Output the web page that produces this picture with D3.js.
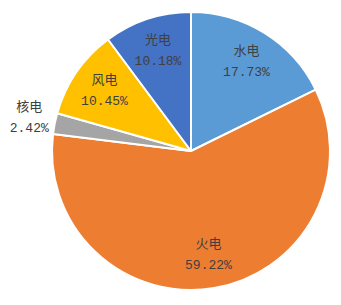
<!DOCTYPE html>
<html>
<head>
<meta charset="utf-8">
<script src="https://cdn.jsdelivr.net/npm/d3@7"></script>
<style>
  body { margin: 0; background: #fff; }
  svg text { fill: #404040; font-size: 13px; }
</style>
</head>
<body>
<svg width="341" height="305"></svg>
<script>
// data
var categories = ["水电", "火电", "核电", "风电", "光电"];
var shares = [17.73, 59.22, 2.42, 10.45, 10.18];
var colors = ["#5B9BD5", "#ED7D31", "#A5A5A5", "#FFC000", "#4472C4"];

var width = 341, height = 305;
var radius = 139;
var cx = 191, cy = 151;

var pie = d3.pie().sort(null);

var arc = d3.arc()
    .outerRadius(radius)
    .innerRadius(0);

// inside labels sit at about 0.75 of the radius, the small slice goes outside
var labelArc = d3.arc().outerRadius(105).innerRadius(105);
var outerArc = d3.arc().outerRadius(165).innerRadius(165);

var svg = d3.select("svg")
    .append("g")
    .attr("transform", "translate(" + cx + "," + cy + ")");

var slices = pie(shares);

svg.selectAll("path")
    .data(slices)
    .enter()
    .append("path")
    .attr("d", arc)
    .attr("fill", function(d, i) { return colors[i]; })
    .attr("stroke", "#fff")
    .attr("stroke-width", 2)
    .attr("stroke-linejoin", "round");

var labels = svg.selectAll("g.label")
    .data(slices)
    .enter()
    .append("g")
    .attr("class", "label")
    .attr("transform", function(d) {
      var c = d.data < 5 ? outerArc.centroid(d) : labelArc.centroid(d);
      return "translate(" + c + ")";
    })
    .attr("text-anchor", "middle");

labels.append("text")
    .attr("y", -7)
    .style("font-family", "'Noto Sans CJK SC', sans-serif")
    .text(function(d, i) { return categories[i]; });

labels.append("text")
    .attr("y", 14)
    .style("font-family", "'Liberation Mono', 'DejaVu Sans Mono', monospace")
    .text(function(d) { return d.data.toFixed(2) + "%"; });
</script>
</body>
</html>
